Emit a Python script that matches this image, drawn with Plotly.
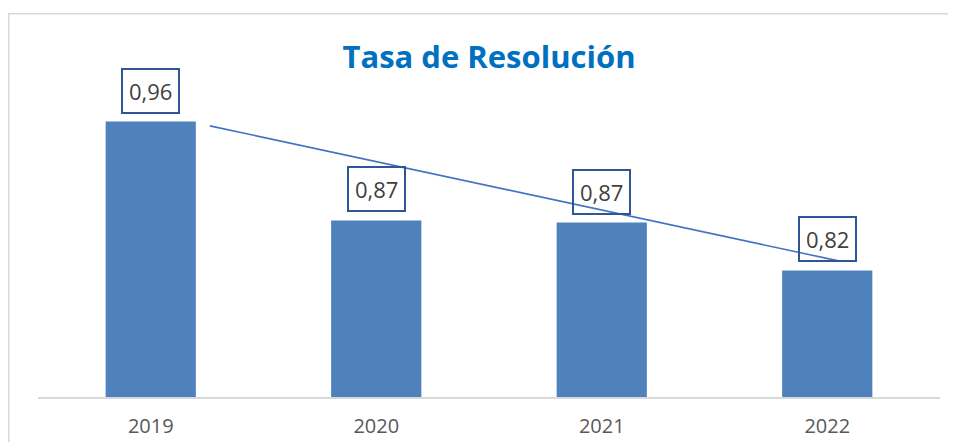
import plotly.graph_objects as go

# Data
years = ["2019", "2020", "2021", "2022"]
values = [0.959, 0.866, 0.864, 0.819]
value_labels = ["0,96", "0,87", "0,87", "0,82"]
# Linear trendline endpoints (category index, value)
trend_x = [0.262, 3.05]
trend_y = [0.955, 0.828]

x_idx = list(range(len(years)))

W, H = 948, 434  # page has an 8px body margin

fig = go.Figure()
fig.add_trace(go.Bar(
    x=x_idx, y=values, width=0.4,
    marker=dict(color="#4F81BD", line=dict(width=0)),
    showlegend=False, hoverinfo="skip",
))
fig.add_trace(go.Scatter(
    x=trend_x, y=trend_y, mode="lines",
    line=dict(color="#4472C4", width=1.6),
    showlegend=False, hoverinfo="skip",
))

for xi, v, lab in zip(x_idx, values, value_labels):
    fig.add_annotation(
        x=xi, y=v, text=lab, showarrow=False,
        yanchor="bottom", yshift=8,
        font=dict(family="Open Sans", size=22, color="#404040"),
        bordercolor="#2F5597", borderwidth=2, borderpad=6,
    )

fig.update_layout(
    width=W, height=H,
    margin=dict(l=30, r=16, t=70, b=45, autoexpand=False),
    paper_bgcolor="white", plot_bgcolor="white",
    title=dict(
        text="<b>Tasa de Resolución</b>",
        font=dict(family="Open Sans", size=31, color="#0070C0"),
        x=481 / W, xanchor="center", y=1 - 49 / H, yanchor="middle",
    ),
    xaxis=dict(
        range=[-0.5, 3.5], tickvals=x_idx, ticktext=years,
        showgrid=False, zeroline=False, automargin=False,
        showline=True, linecolor="#D9D9D9", linewidth=1.5,
        ticks="", tickfont=dict(family="Open Sans", size=20, color="#595959"),
        ticklabelstandoff=10,
    ),
    yaxis=dict(
        range=[0.7, 1.0], visible=False, automargin=False,
    ),
    shapes=[dict(
        type="rect", xref="paper", yref="paper",
        x0=-0.0324, x1=1.05, y0=-0.3, y1=1.2015,
        line=dict(color="#D9D9D9", width=1.5), fillcolor="rgba(0,0,0,0)",
        layer="below",
    )],
)

fig.write_html("out.html")
